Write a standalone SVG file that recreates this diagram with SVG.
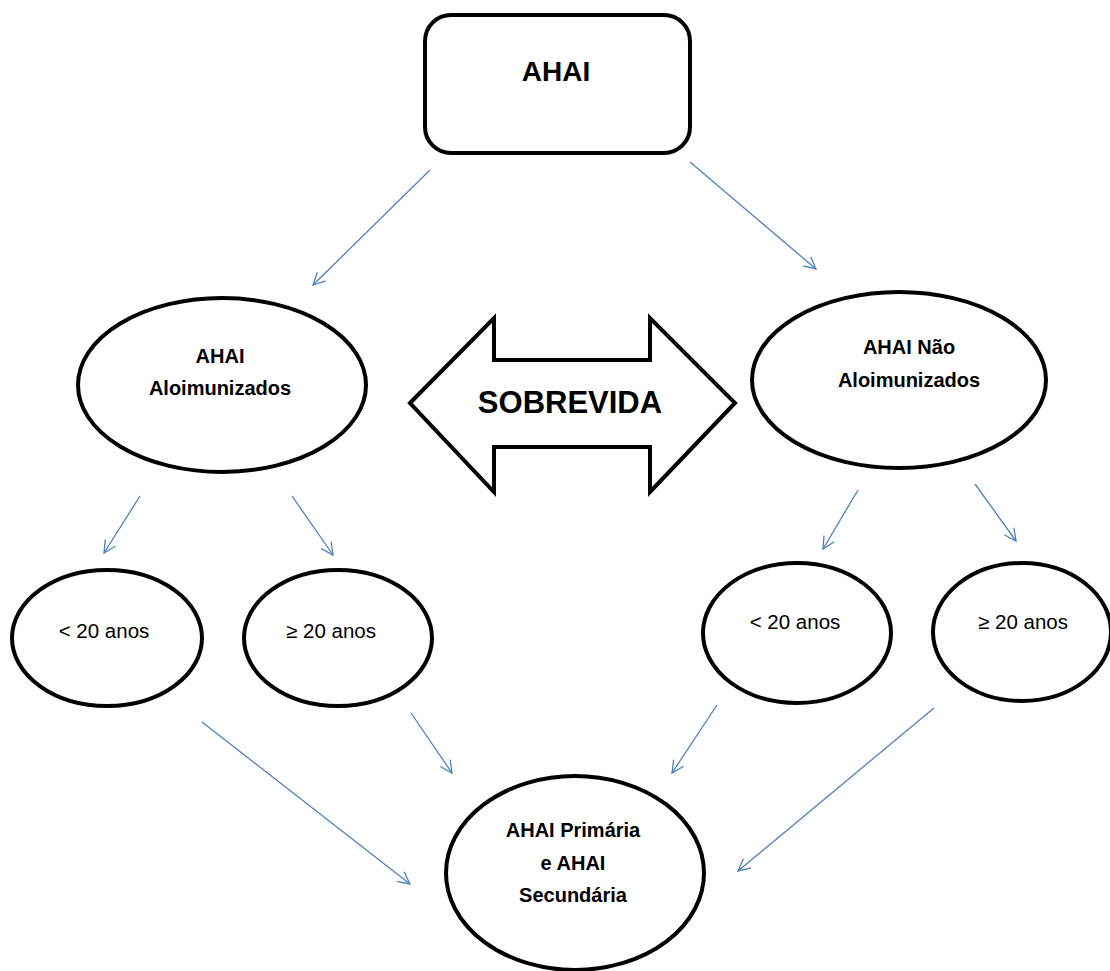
<svg xmlns="http://www.w3.org/2000/svg" width="1110" height="971" viewBox="0 0 1110 971">
<style>
.shape{fill:#fff;stroke:#000;stroke-width:4}
.bold{font-family:"Liberation Sans",Arial,sans-serif;font-weight:bold;fill:#000;text-anchor:middle}
.reg{font-family:"Liberation Sans",Arial,sans-serif;fill:#000;text-anchor:middle;font-size:20.5px}
.conn{stroke:#4F81BD;stroke-width:1.3;fill:none;marker-end:url(#ah)}
</style>
<defs>
<marker id="ah" markerUnits="userSpaceOnUse" markerWidth="16" markerHeight="16" refX="13" refY="7" orient="auto">
<path d="M1,1 L13,7 L1,13" fill="none" stroke="#4F81BD" stroke-width="1.3"/>
</marker>
</defs>
<rect width="1110" height="971" fill="#fff"/>
<g id="connectors">
<line class="conn" x1="430" y1="170" x2="313" y2="285"/>
<line class="conn" x1="690" y1="162" x2="816" y2="269"/>
<line class="conn" x1="140" y1="496" x2="104" y2="553"/>
<line class="conn" x1="292" y1="496" x2="333" y2="555"/>
<line class="conn" x1="858" y1="490" x2="823" y2="549"/>
<line class="conn" x1="975" y1="484" x2="1016" y2="541"/>
<line class="conn" x1="202" y1="722" x2="410" y2="884"/>
<line class="conn" x1="411" y1="713" x2="452" y2="773"/>
<line class="conn" x1="717" y1="705" x2="672" y2="773"/>
<line class="conn" x1="934" y1="708" x2="738" y2="871"/>
</g>
<g id="ahai">
<rect class="shape" x="425" y="15" width="265" height="138" rx="26"/>
<text class="bold" x="556" y="81" font-size="28">AHAI</text>
</g>
<g id="aloimunizados">
<ellipse class="shape" cx="222" cy="385" rx="144" ry="87"/>
<text class="bold" x="220" y="363" font-size="20">AHAI</text>
<text class="bold" x="220" y="395" font-size="20">Aloimunizados</text>
</g>
<g id="sobrevida">
<path class="shape" d="M410,403 L494,318 L494,360 L650,360 L650,318 L735,403 L650,492 L650,447 L494,447 L494,492 Z"/>
<text class="bold" x="570" y="413" font-size="31">SOBREVIDA</text>
</g>
<g id="nao-aloimunizados">
<ellipse class="shape" cx="899" cy="380" rx="147" ry="88"/>
<text class="bold" x="909" y="354" font-size="20">AHAI Não</text>
<text class="bold" x="909" y="387" font-size="20">Aloimunizados</text>
</g>
<g id="al-menor20">
<ellipse class="shape" cx="107" cy="638" rx="95" ry="68"/>
<text class="reg" x="104" y="638">&lt; 20 anos</text>
</g>
<g id="al-maior20">
<ellipse class="shape" cx="338" cy="638" rx="94" ry="68"/>
<text class="reg" x="331" y="638">≥ 20 anos</text>
</g>
<g id="nao-menor20">
<ellipse class="shape" cx="797" cy="633" rx="94" ry="70"/>
<text class="reg" x="795" y="629">&lt; 20 anos</text>
</g>
<g id="nao-maior20">
<ellipse class="shape" cx="1022" cy="632" rx="89" ry="69"/>
<text class="reg" x="1023" y="629">≥ 20 anos</text>
</g>
<g id="primaria-secundaria">
<ellipse class="shape" cx="575" cy="873" rx="129" ry="97"/>
<text class="bold" x="573" y="837" font-size="20">AHAI Primária</text>
<text class="bold" x="573" y="870" font-size="20">e AHAI</text>
<text class="bold" x="573" y="902" font-size="20">Secundária</text>
</g>
</svg>
